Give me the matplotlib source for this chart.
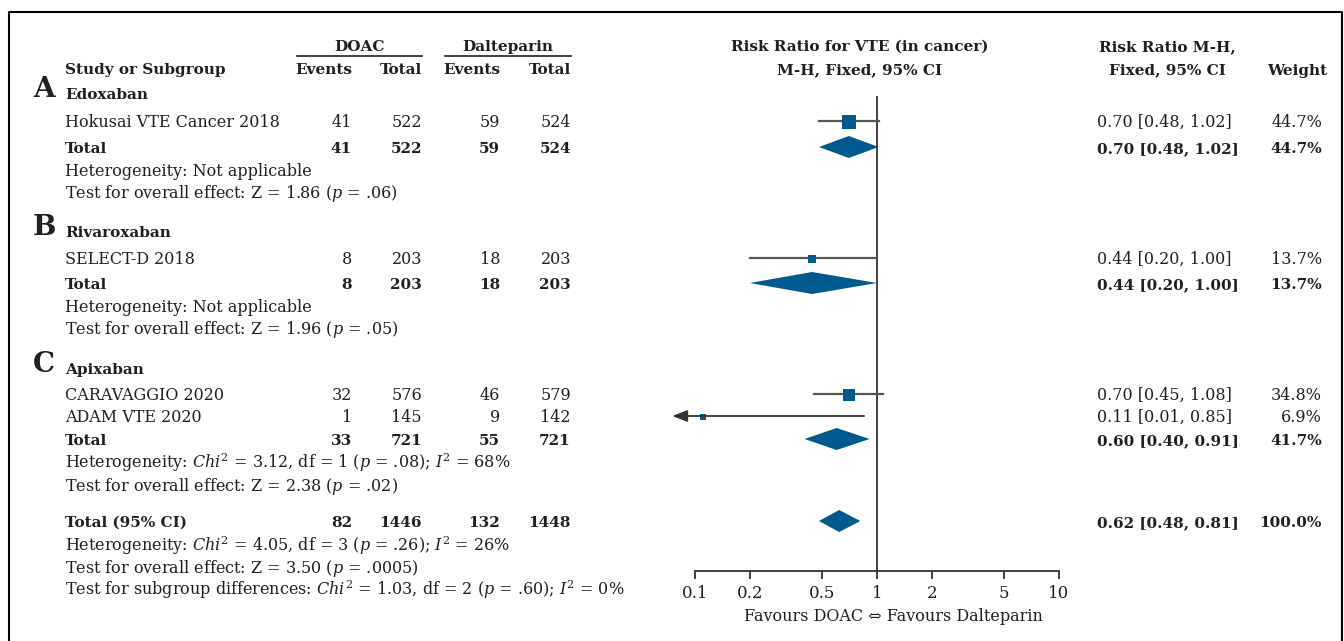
import matplotlib.pyplot as plt
import numpy as np
from matplotlib.ticker import NullLocator, FixedLocator, FixedFormatter

############################### données ###############################

studies = ["Hokusai VTE Cancer 2018", "SELECT-D 2018", "CARAVAGGIO 2020", "ADAM VTE 2020"]
study_group = [0, 1, 2, 2]
doac_events = [41, 8, 32, 1]
doac_total = [522, 203, 576, 145]
dalt_events = [59, 18, 46, 9]
dalt_total = [524, 203, 579, 142]
rr = [0.70, 0.44, 0.70, 0.11]
rr_lo = [0.48, 0.20, 0.45, 0.01]
rr_hi = [1.02, 1.00, 1.08, 0.85]
weight = [44.7, 13.7, 34.8, 6.9]

groups = ["Edoxaban", "Rivaroxaban", "Apixaban"]
group_letters = ["A", "B", "C"]
grp_doac_events = [41, 8, 33]
grp_doac_total = [522, 203, 721]
grp_dalt_events = [59, 18, 55]
grp_dalt_total = [524, 203, 721]
grp_rr = [0.70, 0.44, 0.60]
grp_lo = [0.48, 0.20, 0.40]
grp_hi = [1.02, 1.00, 0.91]
grp_weight = [44.7, 13.7, 41.7]
grp_het = ["Heterogeneity: Not applicable",
           "Heterogeneity: Not applicable",
           r"Heterogeneity: $\mathit{Chi}^2$ = 3.12, df = 1 ($\mathit{p}$ = .08); $\mathit{I}^2$ = 68%"]
grp_test = [r"Test for overall effect: Z = 1.86 ($\mathit{p}$ = .06)",
            r"Test for overall effect: Z = 1.96 ($\mathit{p}$ = .05)",
            r"Test for overall effect: Z = 2.38 ($\mathit{p}$ = .02)"]

all_counts = [82, 1446, 132, 1448]
all_rr, all_lo, all_hi, all_weight = 0.62, 0.48, 0.81, 100.0
all_notes = [r"Heterogeneity: $\mathit{Chi}^2$ = 4.05, df = 3 ($\mathit{p}$ = .26); $\mathit{I}^2$ = 26%",
             r"Test for overall effect: Z = 3.50 ($\mathit{p}$ = .0005)",
             r"Test for subgroup differences: $\mathit{Chi}^2$ = 1.03, df = 2 ($\mathit{p}$ = .60); $\mathit{I}^2$ = 0%"]

ticks = [0.1, 0.2, 0.5, 1, 2, 5, 10]
tick_labels = ["0.1", "0.2", "0.5", "1", "2", "5", "10"]

############################### mise en page ###############################

W, H = 1344, 641
TXT = '#231f20'
BLUE = '#005a8d'
GREY = '#555555'
FS = 11.5   # texte normal
FSB = 11.0  # texte gras (DejaVu Serif Bold est plus large)

plt.rcParams['font.family'] = ['DejaVu Serif', 'DejaVu Sans']
plt.rcParams['mathtext.fontset'] = 'custom'
plt.rcParams['mathtext.rm'] = 'DejaVu Serif'
plt.rcParams['mathtext.it'] = 'DejaVu Serif:italic'

# positions verticales (pixels)
group_y = [93, 231, 368]
study_y = [121, 258, 394, 416]
total_y = [147, 283, 439]
het_y = [170, 306, 462]
test_y = [192, 328, 485]
all_y = 521
notes_y = [545, 567, 589]
axis_y = 571

# colonnes
col_name = 65
col_num = [352, 422, 500, 571]
col_rr = 1097
col_w = 1322

fig = plt.figure(figsize=(W / 100, H / 100), dpi=100)
bg = fig.add_axes([0, 0, 1, 1])
bg.set_xlim(0, W)
bg.set_ylim(H, 0)
bg.axis('off')

def txt(x, y, s, ha='left', bold=False, size=None, **kw):
    if size is None:
        size = FSB if bold else FS
    bg.text(x, y + 6, s, ha=ha, va='baseline', fontsize=size, color=TXT,
            fontweight='bold' if bold else 'normal', **kw)

# cadre
bg.plot([9, 9, 1342, 1342], [H + 5, 12, 12, H + 5], color='black', lw=1.5, clip_on=False)

# en-têtes
txt(360, 45, "DOAC", ha='center', bold=True)
txt(508, 45, "Dalteparin", ha='center', bold=True)
bg.plot([297, 422], [56, 56], color=TXT, lw=1.2)
bg.plot([445, 571], [56, 56], color=TXT, lw=1.2)
txt(col_name, 68, "Study or Subgroup", bold=True)
for x, s in zip(col_num, ["Events", "Total", "Events", "Total"]):
    txt(x, 68, s, ha='right', bold=True)
txt(860, 45, "Risk Ratio for VTE (in cancer)", ha='center', bold=True)
txt(860, 68, "M-H, Fixed, 95% CI", ha='center', bold=True)
txt(1167, 45, "Risk Ratio M-H,", ha='center', bold=True)
txt(1167, 68, "Fixed, 95% CI", ha='center', bold=True)
txt(1297, 69, "Weight", ha='center', bold=True)

# axe du forest plot (échelle log)
x0, x1 = 660, 1080
fp = fig.add_axes([x0 / W, 0, (x1 - x0) / W, 1])
fp.set_xscale('log')
fp.set_xlim(10 ** (-1 - (695 - x0) / 182), 10 ** (-1 + (x1 - 695) / 182))
fp.set_ylim(H, 0)
fp.patch.set_visible(False)
for side in ['left', 'right', 'top']:
    fp.spines[side].set_visible(False)
fp.spines['bottom'].set_position(('data', axis_y))
fp.spines['bottom'].set_bounds(0.1, 10)
fp.spines['bottom'].set_color('#333333')
fp.spines['bottom'].set_linewidth(1.3)
fp.yaxis.set_major_locator(NullLocator())
fp.xaxis.set_major_locator(FixedLocator(ticks))
fp.xaxis.set_major_formatter(FixedFormatter(tick_labels))
fp.xaxis.set_minor_locator(NullLocator())
fp.tick_params(axis='x', direction='out', length=6, width=1.3, color='#333333',
               labelsize=12, labelcolor=TXT, pad=4)

fp.plot([1, 1], [97, axis_y], color='#333333', lw=1.3)

def diamond(est, lo, hi, y, h=11):
    fp.fill([lo, est, hi, est], [y, y - h, y, y + h], color=BLUE, lw=0)

clip_min = 0.075
for i, name in enumerate(studies):
    y = study_y[i]
    txt(col_name, y, name)
    for x, v in zip(col_num, [doac_events[i], doac_total[i], dalt_events[i], dalt_total[i]]):
        txt(x, y, str(v), ha='right')
    txt(col_rr, y, f"{rr[i]:.2f} [{rr_lo[i]:.2f}, {rr_hi[i]:.2f}]")
    txt(col_w, y, f"{weight[i]:.1f}%", ha='right')
    if rr_lo[i] < 0.1:
        # IC tronqué : flèche vers la gauche
        fp.annotate('', xy=(clip_min, y), xytext=(rr_hi[i], y),
                    arrowprops=dict(arrowstyle='-|>,head_length=0.9,head_width=0.35',
                                    color='#333333', lw=1.3, shrinkA=0, shrinkB=0))
    else:
        fp.plot([rr_lo[i], rr_hi[i]], [y, y], color=GREY, lw=1.6)
    fp.plot(rr[i], y + 1, marker='s', color=BLUE, ms=2.2 * np.sqrt(weight[i]) / 1.389, mew=0)

for g, name in enumerate(groups):
    txt(33, group_y[g] - 2, group_letters[g], size=20, bold=True)
    txt(col_name, group_y[g], name, bold=True)
    y = total_y[g]
    txt(col_name, y, "Total", bold=True)
    for x, v in zip(col_num, [grp_doac_events[g], grp_doac_total[g], grp_dalt_events[g], grp_dalt_total[g]]):
        txt(x, y, str(v), ha='right', bold=True)
    txt(col_rr, y, f"{grp_rr[g]:.2f} [{grp_lo[g]:.2f}, {grp_hi[g]:.2f}]", bold=True)
    txt(col_w, y, f"{grp_weight[g]:.1f}%", ha='right', bold=True)
    diamond(grp_rr[g], grp_lo[g], grp_hi[g], y)
    txt(col_name, het_y[g], grp_het[g])
    txt(col_name, test_y[g], grp_test[g])

# total général
txt(col_name, all_y, "Total (95% CI)", bold=True)
for x, v in zip(col_num, all_counts):
    txt(x, all_y, str(v), ha='right', bold=True)
txt(col_rr, all_y, f"{all_rr:.2f} [{all_lo:.2f}, {all_hi:.2f}]", bold=True)
txt(col_w, all_y, f"{all_weight:.1f}%", ha='right', bold=True)
diamond(all_rr, all_lo, all_hi, all_y)
for y, s in zip(notes_y, all_notes):
    txt(col_name, y, s)

txt(893, 615, "Favours DOAC \u21d4 Favours Dalteparin", ha='center')

fig.savefig("out.png", dpi=100)
